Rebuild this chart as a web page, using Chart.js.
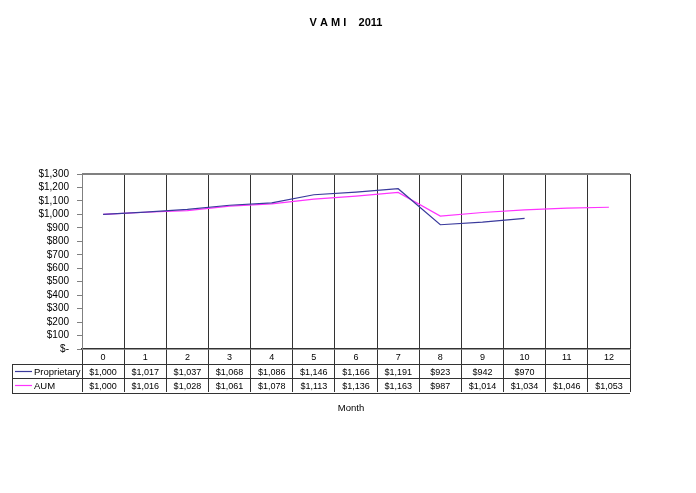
<!DOCTYPE html>
<html>
<head>
<meta charset="utf-8">
<title>VAMI 2011</title>
<script src="https://cdn.jsdelivr.net/npm/chart.js@4"></script>
<style>
  html, body { margin: 0; padding: 0; background: #fff; }
  canvas { display: block; }
</style>
</head>
<body>
<canvas id="vami" width="696" height="493"></canvas>
<script>
(function () {
    'use strict';

    var months = ['0', '1', '2', '3', '4', '5', '6', '7', '8', '9', '10', '11', '12'];
    var proprietary = [1000, 1017, 1037, 1068, 1086, 1146, 1166, 1191, 923, 942, 970, null, null];
    var aum = [1000, 1016, 1028, 1061, 1078, 1113, 1136, 1163, 987, 1014, 1034, 1046, 1053];
    var yTicks = { min: 0, max: 1300, step: 100 };

    var FONT = '"Liberation Sans", Arial, sans-serif';

    function money(v) {
        if (v === null || v === undefined) return '';
        if (v === 0) return '$-';
        return '$' + v.toLocaleString('en-US');
    }

    // Title, chart frame, data table below the axis and the "Month" label
    var tablePlugin = {
        id: 'vamiTable',
        afterDraw: function (chart) {
            var ctx = chart.ctx;
            var area = chart.chartArea;
            var x = chart.scales.x;
            var rowH = 14.3;
            var top = area.bottom;
            var r1 = top + 15, r2 = r1 + rowH, r3 = r2 + rowH;
            var legendLeft = 12;

            ctx.save();

            // top border of the plot
            ctx.strokeStyle = '#808080';
            ctx.lineWidth = 2;
            ctx.beginPath();
            ctx.moveTo(area.left, area.top);
            ctx.lineTo(area.right, area.top);
            ctx.stroke();

            // table horizontal rules and left edge
            ctx.strokeStyle = '#333';
            ctx.lineWidth = 1;
            ctx.beginPath();
            [r1, r2, r3].forEach(function (y) {
                ctx.moveTo(legendLeft, Math.round(y) + 0.5);
                ctx.lineTo(area.right, Math.round(y) + 0.5);
            });
            ctx.moveTo(legendLeft + 0.5, Math.round(r1));
            ctx.lineTo(legendLeft + 0.5, Math.round(r3) + 1);
            ctx.stroke();

            ctx.font = '9px ' + FONT;
            ctx.fillStyle = '#000';
            ctx.textBaseline = 'middle';
            ctx.textAlign = 'center';

            var rows = [
                { label: 'Proprietary', data: proprietary, color: chart.data.datasets[0].borderColor, y: (r1 + r2) / 2 },
                { label: 'AUM', data: aum, color: chart.data.datasets[1].borderColor, y: (r2 + r3) / 2 }
            ];

            months.forEach(function (m, i) {
                var cx = x.getPixelForValue(i);
                ctx.fillText(m, cx, (top + r1) / 2 + 1);
                rows.forEach(function (r) {
                    ctx.fillText(money(r.data[i]), cx, r.y + 1);
                });
            });

            // legend keys in the table
            ctx.font = '9.5px ' + FONT;
            rows.forEach(function (r) {
                ctx.strokeStyle = r.color;
                ctx.lineWidth = 1.2;
                ctx.beginPath();
                ctx.moveTo(legendLeft + 3, Math.round(r.y) + 0.5);
                ctx.lineTo(legendLeft + 20, Math.round(r.y) + 0.5);
                ctx.stroke();
                ctx.textAlign = 'left';
                ctx.fillText(r.label, legendLeft + 22, r.y + 1);
            });

            ctx.textAlign = 'center';
            ctx.font = '9.5px ' + FONT;
            ctx.fillText('Month', 351, 408);

            ctx.font = 'bold 11px ' + FONT;
            ctx.fillText('V A M I    2011', 346, 23);

            ctx.restore();
        }
    };

    new Chart(document.getElementById('vami'), {
        type: 'line',
        data: {
            labels: months,
            datasets: [{
                label: 'Proprietary',
                data: proprietary,
                borderColor: '#3a3a9c',
                borderWidth: 1.2,
                pointRadius: 0,
                tension: 0,
                spanGaps: false
            }, {
                label: 'AUM',
                data: aum,
                borderColor: '#ff33ff',
                borderWidth: 1.2,
                pointRadius: 0,
                tension: 0
            }]
        },
        options: {
            responsive: false,
            animation: false,
            layout: { padding: { top: 174, left: 0, right: 66, bottom: 101 } },
            plugins: {
                legend: { display: false },
                title: { display: false },
                tooltip: { enabled: false }
            },
            scales: {
                x: {
                    type: 'category',
                    offset: true,
                    grid: {
                        offset: true,
                        color: '#333',
                        lineWidth: 1,
                        drawTicks: true,
                        tickLength: 43
                    },
                    border: { display: true, color: '#333', width: 1.5 },
                    ticks: { display: false },
                    afterFit: function (scale) { scale.height = 43; }
                },
                y: {
                    min: yTicks.min,
                    max: yTicks.max,
                    ticks: {
                        stepSize: yTicks.step,
                        autoSkip: false,
                        padding: 8,
                        color: '#000',
                        font: { family: FONT, size: 10 },
                        callback: function (v) { return money(v); }
                    },
                    grid: {
                        drawOnChartArea: false,
                        color: '#808080',
                        tickLength: 5
                    },
                    border: { display: true, color: '#808080', width: 1 },
                    afterFit: function (scale) { scale.width = 82; }
                }
            }
        },
        plugins: [tablePlugin]
    });
})();
</script>
</body>
</html>
